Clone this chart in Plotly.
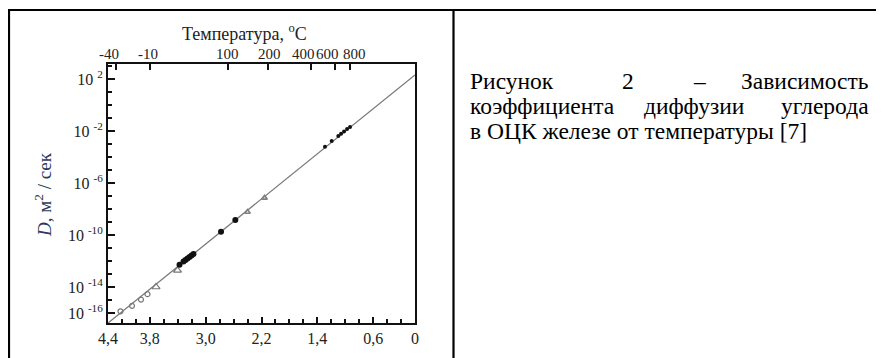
import plotly.graph_objects as go

# page is rendered with an 8px body margin -> figure is 876x350 placed at (8,8)
OFF = 8
PAGE_W, PAGE_H = 884, 358
W, H = PAGE_W - OFF, PAGE_H - OFF
L, R, T, B = 108, 415, 64, 323  # plot area in page pixels

# ---- data: x = 1000/T (K^-1), y = log10(D) ----
open_circ_x = [4.221, 4.056, 3.927, 3.834]
open_circ_logD = [-15.87, -15.45, -14.97, -14.55]
tri_x = [3.712, 3.404]
tri_logD = [-14.0, -12.73]
filled_x = [3.375, 3.318, 3.289, 3.261, 3.232, 3.203, 3.175, 2.780, 2.575]
filled_logD = [-12.29, -12.04, -11.92, -11.81, -11.69, -11.58, -11.46, -9.75, -8.85]
small_tri_x = [2.401, 2.157]
small_tri_logD = [-8.23, -7.15]
dots_x = [1.290, 1.194, 1.099, 1.060, 1.017, 0.974, 0.931]
dots_logD = [-3.21, -2.77, -2.38, -2.22, -2.04, -1.85, -1.69]
fit_x = [4.4, 0.0]
fit_logD = [-16.77, 2.31]

bottom_tickvals = [4.4, 3.8, 3.0, 2.2, 1.4, 0.6, 0.0]
bottom_ticktext = ["4,4", "3,8", "3,0", "2,2", "1,4", "0,6", "0"]
bottom_minor = [round(0.2 * i, 1) for i in range(23)]
y_major_exp = [2, -2, -6, -10, -14, -16]
y_minor_exp = list(range(-16, 4))
top_temps_C = [-40, -10, 100, 200, 400, 600, 800]
# horizontal nudges (px) of the top tick labels, as printed in the original
top_label_shift = [-7, -2, -1, 2, -8, -8, 5]

SERIF = "Liberation Serif"


def pd(v):
    return [10 ** a for a in v]


def px(x):
    return (x - L) / (R - L)


def py(y):
    return (B - y) / (B - T)


def inv_temp(t):
    return 1000.0 / (t + 273.15)


fig = go.Figure()
fig.add_trace(go.Scatter(x=fit_x, y=pd(fit_logD), mode="lines",
                         line=dict(color="#7a7a7a", width=1.3), showlegend=False))
fig.add_trace(go.Scatter(x=open_circ_x, y=pd(open_circ_logD), mode="markers",
                         marker=dict(symbol="circle-open", size=5, color="#777",
                                     line=dict(width=1.2)), showlegend=False))
fig.add_trace(go.Scatter(x=tri_x, y=pd(tri_logD), mode="markers",
                         marker=dict(symbol="triangle-up-open", size=7, color="#777",
                                     line=dict(width=1.2)), showlegend=False))
fig.add_trace(go.Scatter(x=small_tri_x, y=pd(small_tri_logD), mode="markers",
                         marker=dict(symbol="triangle-up-open", size=5, color="#808080",
                                     line=dict(width=1.6)), showlegend=False))
fig.add_trace(go.Scatter(x=filled_x, y=pd(filled_logD), mode="markers",
                         marker=dict(symbol="circle", size=6, color="#111"),
                         showlegend=False))
fig.add_trace(go.Scatter(x=dots_x, y=pd(dots_logD), mode="markers",
                         marker=dict(symbol="circle", size=4, color="#111"),
                         showlegend=False))
# invisible trace to activate top axis
fig.add_trace(go.Scatter(x=[4.4, 0], y=[1e-16, 1e-16], xaxis="x2", mode="markers",
                         marker=dict(opacity=0), showlegend=False, hoverinfo="skip"))

tick_font = dict(family=SERIF, size=16, color="#222")

fig.update_layout(
    width=W, height=H, autosize=False,
    margin=dict(l=L - OFF, r=PAGE_W - R, t=T - OFF, b=PAGE_H - B),
    paper_bgcolor="white", plot_bgcolor="white",
    xaxis=dict(range=[4.4, 0.0], showgrid=False, zeroline=False,
               showline=True, linecolor="#111", linewidth=2, mirror=True,
               ticks="inside", ticklen=6, tickwidth=1.5, tickcolor="#111",
               tickmode="array", tickvals=bottom_tickvals, ticktext=bottom_ticktext,
               tickfont=tick_font, tickangle=0,
               minor=dict(tickvals=bottom_minor, ticks="inside", ticklen=4,
                          tickwidth=1.5, tickcolor="#111", showgrid=False)),
    xaxis2=dict(range=[4.4, 0.0], overlaying="x", side="top", showgrid=False,
                zeroline=False, showline=True, linecolor="#111", linewidth=2,
                ticks="inside", ticklen=6, tickwidth=1.5, tickcolor="#111",
                tickmode="array", showticklabels=False,
                tickvals=[inv_temp(t) for t in top_temps_C]),
    yaxis=dict(type="log", range=[-16.77, 3.15], showgrid=False, zeroline=False,
               showline=True, linecolor="#111", linewidth=2, mirror=True,
               ticks="inside", ticklen=7, tickwidth=1.5, tickcolor="#111",
               tickmode="array", tickvals=[10 ** e for e in y_major_exp],
               ticktext=["10 <sup>%d</sup>" % e for e in y_major_exp],
               tickfont=tick_font,
               minor=dict(tickvals=[10 ** e for e in y_minor_exp], ticks="inside",
                          ticklen=4, tickwidth=1.5, tickcolor="#111", showgrid=False)),
)

ann = []
# top temperature labels
for t, sh in zip(top_temps_C, top_label_shift):
    ann.append(dict(text=str(t), x=inv_temp(t), xref="x2", y=py(54), yref="paper",
                    xshift=sh, xanchor="center", yanchor="middle", showarrow=False,
                    font=dict(family=SERIF, size=15, color="#222")))
ann.append(dict(text="Температура, <sup>o</sup>C", x=px(244), y=py(32),
                xref="paper", yref="paper", showarrow=False,
                xanchor="center", yanchor="middle",
                font=dict(family=SERIF, size=18, color="#222")))
ann.append(dict(text="<i>D</i>, м<sup>2</sup> / сек", x=px(43), y=py(195),
                xref="paper", yref="paper", showarrow=False, textangle=-90,
                xanchor="center", yanchor="middle",
                font=dict(family=SERIF, size=19, color="#2b3a5c")))

cap_font = dict(family=SERIF, size=23.5, color="#000")
lines = [
    (81, [("Рисунок", 468, "left"), ("2", 628, "center"), ("–", 699, "center"),
          ("Зависимость", 871, "right")]),
    (106, [("коэффициента", 468, "left"), ("диффузии", 694, "center"),
           ("углерода", 871, "right")]),
    (131, [("в ОЦК железе от температуры [7]", 468, "left")]),
]
for yy, words in lines:
    for w, xx, anc in words:
        ann.append(dict(text=w, x=px(xx), y=py(yy), xref="paper", yref="paper",
                        xanchor=anc, yanchor="middle", showarrow=False, font=cap_font))
fig.update_layout(annotations=ann)

# table borders (page pixel coordinates)
for x0, y0, x1, y1 in [(8, 10, 884, 10), (9, 10, 9, 358), (453.5, 10, 453.5, 358)]:
    fig.add_shape(type="line", xref="paper", yref="paper",
                  x0=px(x0), y0=py(y0), x1=px(x1), y1=py(y1),
                  line=dict(color="#000", width=2.2))

fig.write_html("out.html")
